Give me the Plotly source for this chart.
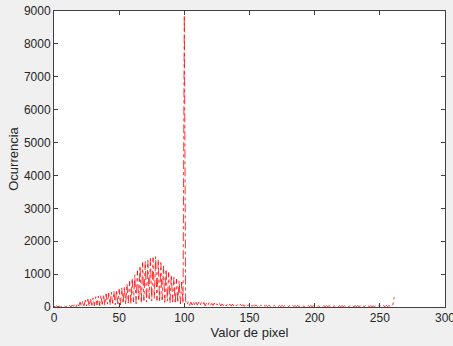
import numpy as np
import plotly.graph_objects as go

# Histogram counts (pixel values 0..261)
counts_0_49 = [20, 0, 30, 5, 25, 0, 20, 10, 30, 0,
               40, 10, 50, 0, 60, 20, 90, 10, 110, 30,
               150, 20, 180, 40, 200, 30, 240, 20, 260, 50,
               280, 30, 310, 60, 330, 40, 350, 80, 380, 50,
               400, 90, 420, 60, 450, 110, 480, 70, 520, 90]
counts_50_99 = [540, 60, 580, 100, 620, 80, 700, 120, 780, 90,
                880, 150, 980, 100, 1100, 180, 1250, 120, 1350, 200,
                1380, 150, 1420, 250, 1480, 180, 1500, 260, 1530, 200,
                1450, 150, 1350, 220, 1250, 140, 1150, 180, 1050, 120,
                980, 150, 900, 100, 850, 130, 800, 90, 760, 110]
counts_100 = [8870]
counts_101_150 = [190, 70, 160, 50, 150, 60, 170, 40, 140, 55,
                  150, 45, 130, 60, 140, 35, 120, 50, 130, 40,
                  110, 45, 120, 35, 100, 40, 110, 30, 95, 40,
                  100, 30, 90, 35, 85, 25, 90, 30, 80, 30,
                  75, 25, 80, 30, 70, 20, 75, 25, 65, 30]
counts_151_200 = [70, 20, 60, 25, 65, 20, 55, 20, 60, 15,
                  55, 20, 50, 15, 55, 20, 45, 15, 50, 20,
                  45, 15, 50, 15, 45, 20, 40, 15, 45, 15,
                  40, 15, 45, 20, 40, 10, 45, 15, 40, 15,
                  35, 15, 40, 10, 45, 15, 40, 15, 35, 10]
counts_201_261 = [40, 15, 35, 10, 40, 15, 35, 10, 40, 15,
                  35, 15, 40, 10, 35, 15, 40, 10, 35, 15,
                  40, 10, 35, 15, 45, 10, 35, 15, 40, 10,
                  35, 15, 40, 15, 35, 10, 40, 15, 45, 10,
                  35, 15, 40, 10, 35, 15, 40, 15, 35, 10,
                  45, 15, 40, 10, 50, 15, 45, 20, 40, 60,
                  300]

counts = (counts_0_49 + counts_50_99 + counts_100 + counts_101_150
          + counts_151_200 + counts_201_261)
pixel_values = list(range(len(counts)))

x_ticks = [0, 50, 100, 150, 200, 250, 300]
y_ticks = [0, 1000, 2000, 3000, 4000, 5000, 6000, 7000, 8000, 9000]

fig = go.Figure()
fig.add_trace(go.Scatter(
    x=pixel_values, y=counts, mode="lines",
    line=dict(color="#ff0000", dash="dashdot", width=0.8),
    showlegend=False,
))

axis_common = dict(
    showgrid=False, zeroline=False, showline=True, linecolor="#404040",
    linewidth=1, mirror="ticks", ticks="inside", ticklen=4, automargin=False,
    ticklabeloverflow="allow",
    tickcolor="#404040", tickfont=dict(family="Liberation Sans, Arial", size=12, color="#262626"),
)
fig.update_layout(
    width=453, height=346,
    margin=dict(l=54, r=8, t=11, b=39),
    paper_bgcolor="#f0f0f0", plot_bgcolor="#ffffff",
    font=dict(family="Liberation Sans, Arial", size=12, color="#262626"),
    xaxis=dict(range=[0, 300.01], tickvals=x_ticks, title=dict(text="Valor de pixel", standoff=2,
               font=dict(size=13)), **axis_common),
    yaxis=dict(range=[0, 9000.01], tickvals=y_ticks, title=dict(text="Ocurrencia", standoff=2,
               font=dict(size=13)), **axis_common),
)

fig.write_html("out.html", config={"displayModeBar": False},
               post_script="document.body.style.margin='0';document.body.style.overflow='hidden';")
